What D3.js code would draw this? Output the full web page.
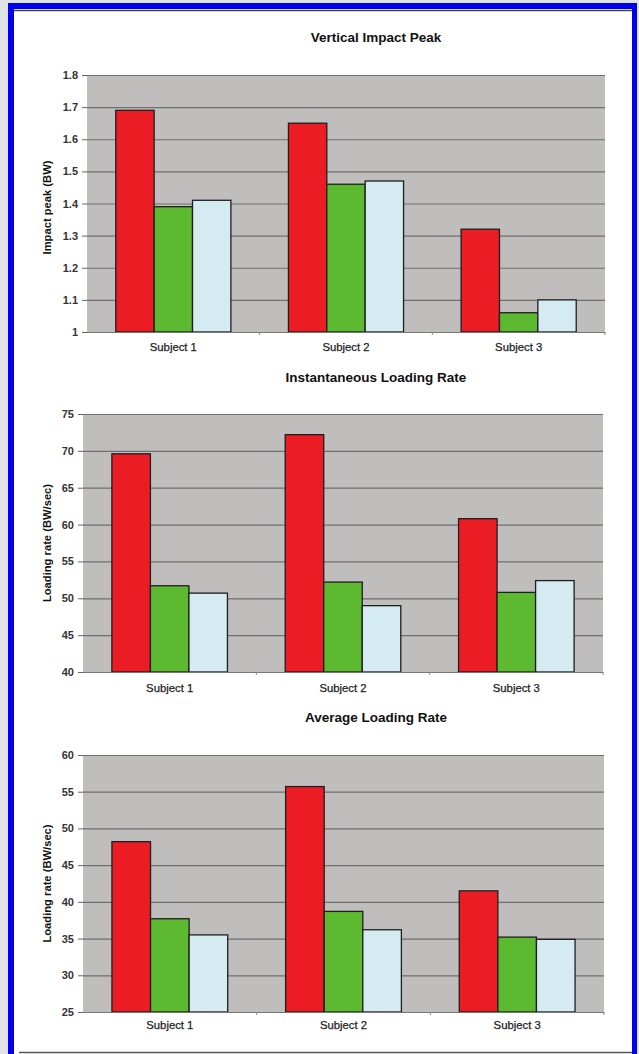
<!DOCTYPE html>
<html><head><meta charset="utf-8">
<script src="https://cdn.jsdelivr.net/npm/d3@7"></script>
<style>
html,body{margin:0;padding:0;background:#dfe2e7;}
svg{display:block;}
text{font-family:"Liberation Sans",Arial,sans-serif;}
</style></head>
<body>
<svg id="c" width="639" height="1054"></svg>
<script>
const categories = ["Subject 1", "Subject 2", "Subject 3"];
const titles = ["Vertical Impact Peak", "Instantaneous Loading Rate", "Average Loading Rate"];
const yLabels = ["Impact peak (BW)", "Loading rate (BW/sec)", "Loading rate (BW/sec)"];

// chart 1: Vertical Impact Peak (three conditions per subject)
const impactRed   = [1.69, 1.65, 1.32];
const impactGreen = [1.39, 1.46, 1.06];
const impactBlue  = [1.41, 1.47, 1.10];
const impactTicks = [1, 1.1, 1.2, 1.3, 1.4, 1.5, 1.6, 1.7, 1.8];

// chart 2: Instantaneous Loading Rate
const instRed   = [69.6, 72.2, 60.8];
const instGreen = [51.7, 52.2, 50.8];
const instBlue  = [50.7, 49.0, 52.4];
const instTicks = [40, 45, 50, 55, 60, 65, 70, 75];

// chart 3: Average Loading Rate
const avgRed   = [48.2, 55.7, 41.5];
const avgGreen = [37.7, 38.7, 35.2];
const avgBlue  = [35.5, 36.2, 34.9];
const avgTicks = [25, 30, 35, 40, 45, 50, 55, 60];

const seriesColors = ["#ec1c24", "#5db92f", "#d5ebf2"];

const svg = d3.select("#c");

// frame
svg.append("rect").attr("x", 8).attr("y", 3).attr("width", 629).attr("height", 1051).attr("fill", "#0000ee");
svg.append("rect").attr("x", 14).attr("y", 9).attr("width", 618).attr("height", 1045).attr("fill", "#ffffff");
svg.append("line").attr("x1", 14).attr("x2", 632).attr("y1", 10.5).attr("y2", 10.5).attr("stroke", "#444").attr("stroke-width", 1.5);
svg.append("line").attr("x1", 19).attr("x2", 632).attr("y1", 1052.5).attr("y2", 1052.5).attr("stroke", "#555").attr("stroke-width", 1.5);

const charts = [
  {title: titles[0], ylab: yLabels[0], series: [impactRed, impactGreen, impactBlue], ticks: impactTicks, fmt: d3.format(""),
   top: 75, bottom: 332, left: 87, right: 605, titleY: 42, catY: 351, labDy: 4},
  {title: titles[1], ylab: yLabels[1], series: [instRed, instGreen, instBlue], ticks: instTicks, fmt: d3.format("d"),
   top: 414, bottom: 672, left: 83, right: 603, titleY: 382, catY: 692, labDy: 0},
  {title: titles[2], ylab: yLabels[2], series: [avgRed, avgGreen, avgBlue], ticks: avgTicks, fmt: d3.format("d"),
   top: 755, bottom: 1012, left: 83, right: 604, titleY: 722, catY: 1029, labDy: 0}
];

charts.forEach(c => {
  const g = svg.append("g");
  const y = d3.scaleLinear().domain([c.ticks[0], c.ticks[c.ticks.length - 1]]).range([c.bottom, c.top]);
  const x0 = d3.scaleBand().domain(categories).range([c.left, c.right]).paddingInner(0).paddingOuter(0);
  // Excel gap width 150% -> group occupies 3/(3+1.5) of band
  const groupW = x0.bandwidth() * 3 / 4.5;
  const x1 = d3.scaleBand().domain([0, 1, 2]).range([0, groupW]);

  // plot background
  g.append("rect").attr("x", c.left).attr("y", c.top).attr("width", c.right - c.left).attr("height", c.bottom - c.top)
    .attr("fill", "#c0bdbd");

  // y axis with gridlines
  const yAxis = d3.axisLeft(y).tickValues(c.ticks).tickFormat(c.fmt).tickSize(5).tickPadding(4);
  const ya = g.append("g").attr("transform", `translate(${c.left},0)`).call(yAxis);
  ya.select(".domain").remove();
  ya.selectAll(".tick line").attr("stroke", "#666");
  ya.selectAll(".tick text").attr("font-size", 11).attr("font-weight", "bold").attr("fill", "#333")
    .attr("font-family", "Liberation Sans, Arial, sans-serif");

  const grid = d3.axisLeft(y).tickValues(c.ticks).tickSize(-(c.right - c.left)).tickFormat("");
  const gg = g.append("g").attr("transform", `translate(${c.left},0)`).call(grid);
  gg.select(".domain").remove();
  gg.selectAll(".tick line").attr("stroke", "#6f6f6f").attr("stroke-width", 1.2);

  // bars
  categories.forEach((cat, i) => {
    const gx = x0(cat) + (x0.bandwidth() - groupW) / 2;
    c.series.forEach((s, k) => {
      g.append("rect")
        .attr("x", gx + x1(k)).attr("y", y(s[i]))
        .attr("width", x1.bandwidth()).attr("height", y(c.ticks[0]) - y(s[i]))
        .attr("fill", seriesColors[k]).attr("stroke", "#1e1e1e").attr("stroke-width", 1.3);
    });
  });

  // x axis
  const xAxis = d3.axisBottom(x0).tickSize(0).tickPadding(8);
  const xa = g.append("g").attr("transform", `translate(0,${c.bottom})`).call(xAxis);
  xa.select(".domain").attr("stroke", "#777");
  xa.selectAll(".tick text").attr("font-size", 11.3).attr("fill", "#222").attr("stroke", "#222").attr("stroke-width", 0.25)
    .attr("font-family", "Liberation Sans, Arial, sans-serif").attr("dy", null).attr("y", c.catY - c.bottom);
  // boundary tick marks between categories
  const bounds = [x0(categories[1]), x0(categories[2]), c.right];
  g.selectAll(null).data(bounds).enter().append("line")
    .attr("x1", d => d).attr("x2", d => d).attr("y1", c.bottom).attr("y2", c.bottom + 3)
    .attr("stroke", "#888");

  // title
  g.append("text").attr("x", 376).attr("y", c.titleY).attr("text-anchor", "middle")
    .attr("font-size", 13.5).attr("font-weight", "bold").attr("fill", "#111").text(c.title);

  // y label
  g.append("text").attr("transform", `translate(51,${(c.top + c.bottom) / 2 + c.labDy}) rotate(-90)`)
    .attr("text-anchor", "middle").attr("font-size", 11.2).attr("font-weight", "bold").attr("fill", "#111").text(c.ylab);
});
</script>
</body></html>
